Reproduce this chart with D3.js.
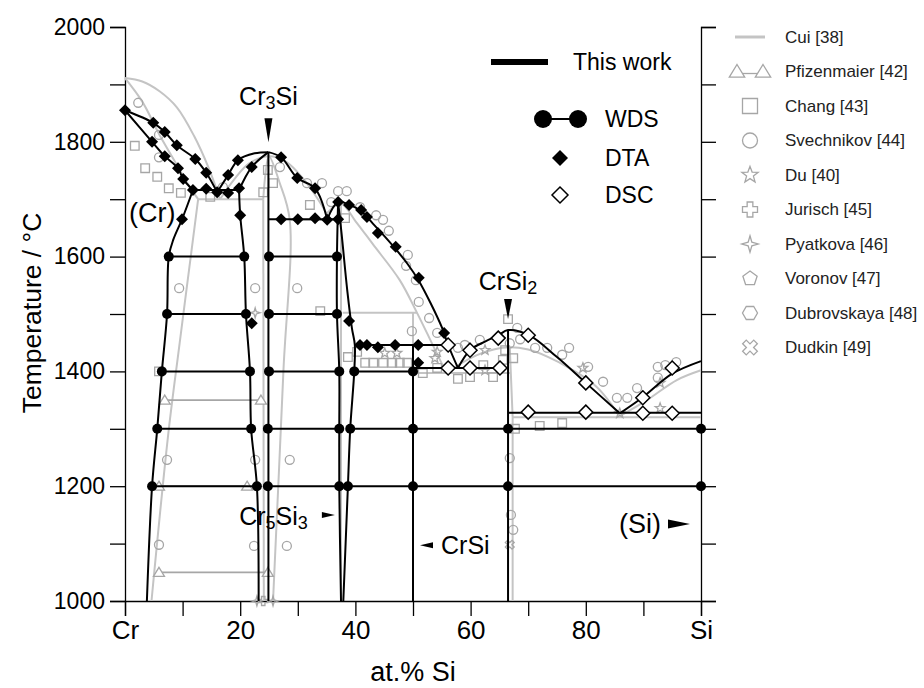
<!DOCTYPE html>
<html lang="en">
<head>
<meta charset="UTF-8" />
<title>Cr–Si phase diagram</title>
<script src="https://d3js.org/d3.v7.min.js"></script>
<style>
  body { margin: 0; background: #fff; }
  svg { display: block; font-family: "Liberation Sans", Arial, sans-serif; }
  .axis path, .axis line { stroke: #000; stroke-width: 1.3; }
  .axis text { font-size: 23px; fill: #000; font-family: "Liberation Sans", Arial, sans-serif; }
  .xaxis text { font-size: 26px; }
  .work { fill: none; stroke: #000; stroke-width: 2; }
  .cui { fill: none; stroke: #c4c4c4; stroke-width: 2; }
  .lit { fill: none; stroke: #a6a6a6; stroke-width: 1.3; }
  .lab { font-size: 23px; fill: #000; }
  .leg { font-size: 17px; fill: #222; }
</style>
</head>
<body>
<svg id="chart" width="924" height="688"></svg>
<script>
// ---- this work: phase boundaries (at.% Si, °C)
const liqCr      = [[0,1855],[4.9,1833],[6.9,1817],[9.0,1794],[12.2,1770],[14.1,1746],[16.0,1712]];
const solCr      = [[0,1855],[4.7,1800],[6.9,1775],[9.2,1754],[10.1,1735],[11.8,1716]];
const solvCr     = [[11.8,1716],[9.9,1665],[8.4,1630],[7.6,1600],[7.3,1500],[6.4,1400],[5.6,1300],[4.7,1200],[3.8,1000]];
const liqCr3SiL  = [[16.0,1712],[17.9,1742],[19.6,1768],[22.5,1780],[24.9,1782]];
const solCr3SiL  = [[19.8,1716],[22.0,1756],[24.9,1782]];
const solvCr3SiL = [[19.8,1716],[20.0,1672],[20.7,1600],[21.0,1500],[21.7,1400],[21.9,1300],[22.9,1200],[23.2,1000]];
const liqCr3SiR  = [[24.9,1782],[27.1,1773],[29.9,1737],[33.0,1719],[35.1,1665]];
const liqCr5Si3  = [[35.1,1665],[37.0,1695],[39,1690],[41,1679],[43,1658],[45,1636],[47,1613],[49,1588],[51,1558],[53,1520],[55,1477],[56.1,1446],[57.8,1406]];
const cr5si3L    = [[37.0,1695],[36.8,1600],[36.8,1500],[37.2,1400],[37.2,1300],[37.2,1200],[37.5,1000]];
const cr5si3R    = [[37.0,1695],[37.6,1640],[38.6,1540],[39.4,1475],[39.9,1446],[39.8,1400],[39.1,1300],[38.7,1200],[37.9,1000]];
const liqCrSi2   = [[57.8,1406],[59.9,1437],[62.5,1452],[64.8,1463],[66.5,1472],[70.0,1464],[75,1425],[80.0,1380],[85.9,1327]];
const liqSi      = [[85.9,1327],[89.9,1355],[95.0,1396],[100,1418]];
const eut1  = [[11.8,1716],[19.8,1716]];
const cr3si = [[24.9,1782],[24.9,1000]];
const eut2  = [[24.9,1665],[37.0,1665]];
const peri  = [[39.9,1446],[56.1,1446]];
const crsi  = [[50,1446],[50,1000]];
const eut3  = [[50,1406],[66.5,1406]];
const crsi2 = [[66.5,1472],[66.5,1000]];
const eut4  = [[66.5,1328],[100,1328]];

// WDS tie lines [T, from, to] and measured compositions
const wdsTies = [[1600,7.6,20.7],[1600,25,36.8],[1500,7.3,21.0],[1500,25,36.8],
  [1400,6.4,21.7],[1400,25,37.2],[1400,39.8,50],
  [1300,5.6,21.9],[1300,24.8,37.2],[1300,39.1,100],
  [1200,4.7,22.9],[1200,24.8,37.2],[1200,38.7,100]];
const wdsPts = [[7.6,1600],[20.7,1600],[25.0,1600],[36.8,1600],
  [7.3,1500],[21.0,1500],[25.0,1500],[36.8,1500],
  [6.4,1400],[21.7,1400],[25.0,1400],[37.2,1400],[39.8,1400],[50,1400],
  [5.6,1300],[21.9,1300],[24.8,1300],[37.2,1300],[39.1,1300],[50,1300],[66.5,1300],[100,1300],
  [4.7,1200],[22.9,1200],[24.8,1200],[37.2,1200],[38.7,1200],[50,1200],[66.5,1200],[100,1200]];

const dtaPts = [[0,1855],[4.9,1833],[6.9,1817],[9.0,1794],[12.2,1770],[14.1,1746],[16.0,1712],
  [4.7,1800],[6.9,1775],[9.2,1754],[10.1,1735],[11.8,1716],[14.1,1718],[17.9,1711],
  [17.9,1742],[19.8,1719],[19.6,1768],[22.0,1756],[27.1,1773],[29.9,1737],[33.0,1719],
  [9.9,1665],[20.0,1672],[27.1,1665],[30.0,1665],[33.0,1667],[35.1,1664],[37.0,1665],
  [37.0,1695],[38.9,1690],[41.0,1681],[42.0,1669],[43.9,1641],[47.0,1617],[51.0,1563],[55.4,1467],
  [38.9,1488],[22.0,1484],[40.8,1446],[42.0,1446],[43.9,1442],[46.9,1446],[50.9,1446],[50.9,1415]];
const dscPts = [[56.1,1446],[59.9,1437],[64.8,1458],[56.1,1406],[59.9,1406],[65.1,1406],
  [70.0,1463],[80.0,1380],[89.9,1354],[95.0,1406],[70.0,1329],[80.0,1329],[89.9,1327],[95.0,1327]];

// ---- Cui [38] calculation
const cuiLiqCr     = [[0,1911],[3,1905],[6,1888],[9,1860],[12,1810],[14.5,1755],[16.5,1700]];
const cuiSolCr     = [[0,1911],[3,1870],[6,1812],[9,1760],[11,1725],[12.7,1700]];
const cuiSolvCr    = [[12.7,1700],[11.8,1630],[9.5,1450],[7.5,1290],[4.6,1000]];
const cuiLiqCr3Si  = [[16.5,1700],[19,1735],[21.5,1762],[25,1775],[28,1765],[31,1735],[33.5,1700],[35,1675]];
const cuiCr3Si     = [[24.0,1700],[24.4,1745],[25,1775],[26.8,1730],[28.6,1664],[27.5,1400],[25.7,1000]];
const cuiLiqCr5Si3 = [[35,1675],[37.5,1692],[40,1662],[43,1622],[47.7,1559],[50.7,1502],[53,1455],[55.8,1397]];
const cuiLiqCrSi2  = [[55.8,1397],[58,1412],[61,1428],[64,1438],[66.8,1442],[70,1438],[73.5,1425],[77.3,1405],[81.9,1373],[85.9,1322]];
const cuiLiqSi     = [[85.9,1322],[90.6,1350],[95.8,1385],[100,1402]];
const cuiStraight  = [
  [[12.7,1700],[24.0,1700]], [[24.0,1700],[24.1,1000]], [[28.6,1664],[37.5,1664]],
  [[37.5,1692],[37.5,1000]], [[37.8,1502],[50.7,1502]], [[50,1502],[50,1000]],
  [[50,1397],[67.0,1397]], [[66.8,1442],[67.3,1320],[67.3,1000]], [[67.3,1320],[100,1320]]];

// ---- literature data
const pfizTies = [[1350,6.9,23.6],[1200,5.9,21.2],[1050,5.9,24.8]];
const changPts = [[1.7,1793],[3.5,1754],[5.6,1739],[7.6,1719],[9.7,1711],[14.8,1704],[24.0,1712],[25.7,1728],
  [24.8,1751],[32.1,1690],[38.2,1667],[33.9,1505],[5.9,1400],[38.7,1425],[40.3,1434],[41.7,1415],[43.1,1415],
  [44.8,1415],[46.4,1415],[47.7,1415],[49.0,1415],[51.7,1397],[54.2,1406],[57.8,1387],[59.9,1390],[62.2,1411],
  [63.9,1390],[66.0,1437],[65.6,1420],[66.5,1491],[67.4,1423],[72.0,1305],[75.9,1310],[67.7,1300]];
const svechPts = [[2.3,1868],[5.9,1812],[5.9,1773],[17.0,1721],[26.9,1756],[31.6,1728],[34.2,1728],[37.0,1714],
  [38.5,1714],[35.8,1695],[40.8,1686],[43.6,1672],[44.8,1664],[45.8,1645],[49.1,1603],[48.8,1584],[50.5,1559],
  [51.0,1521],[52.8,1493],[49.8,1470],[54.2,1467],[29.9,1545],[9.4,1545],[22.6,1545],[7.3,1246],[22.6,1246],
  [28.6,1246],[5.9,1098],[22.4,1096],[28.1,1096],[57.8,1441],[59.0,1446],[61.6,1455],[66.8,1449],[68.1,1476],
  [68.6,1456],[71.2,1441],[73.3,1441],[75.9,1429],[77.1,1441],[80.4,1408],[83.0,1382],[85.4,1354],[87.2,1354],
  [88.9,1371],[92.5,1408],[93.8,1411],[95.7,1416],[92.5,1389],[66.8,1249],[67.0,1150],[67.4,1124]];
const duPts    = [[45.1,1432],[47.2,1432],[54.2,1434],[62.5,1402],[62.5,1437],[79.5,1406],[92.9,1380],[92.9,1336],[85.9,1327],[53.8,1423]];
const jurPts   = [[24.0,1000]];
const pyatPts  = [[22.9,1000],[25.7,1000],[22.6,1502]];
const dudPts   = [[66.8,1098]];

const legendLabels = ["Cui [38]","Pfizenmaier [42]","Chang [43]","Svechnikov [44]","Du [40]",
  "Jurisch [45]","Pyatkova [46]","Voronov [47]","Dubrovskaya [48]","Dudkin [49]"];
const legendShapes = ["line","tri","square","circle","star","cross","star4","pent","hex","x"];

const svg = d3.select("#chart");
const x = d3.scaleLinear().domain([0, 100]).range([125, 701]);
const y = d3.scaleLinear().domain([1000, 2000]).range([601, 27]);
const curved = d3.line().x(d => x(d[0])).y(d => y(d[1])).curve(d3.curveCatmullRom.alpha(0.5));
const straight = d3.line().x(d => x(d[0])).y(d => y(d[1]));

function poly(n, r, rot) {
  const p = d3.range(n).map(i => {
    const a = rot + i * 2 * Math.PI / n;
    return [r * Math.sin(a), -r * Math.cos(a)];
  });
  return "M" + p.join("L") + "Z";
}
function starPath(n, r, ri) {
  const p = d3.range(2 * n).map(i => {
    const a = i * Math.PI / n, rr = i % 2 ? ri : r;
    return [rr * Math.sin(a), -rr * Math.cos(a)];
  });
  return "M" + p.join("L") + "Z";
}
function crossPath(r, w, rot) {
  const pts = [[-w,-r],[w,-r],[w,-w],[r,-w],[r,w],[w,w],[w,r],[-w,r],[-w,w],[-r,w],[-r,-w],[-w,-w]];
  const c = Math.cos(rot), s = Math.sin(rot);
  return "M" + pts.map(([a,b]) => [a*c - b*s, a*s + b*c]).join("L") + "Z";
}
function shape(kind, r) {
  switch (kind) {
    case "square": return `M${-r},${-r}H${r}V${r}H${-r}Z`;
    case "circle": return `M${r},0A${r},${r} 0 1,1 ${-r},0A${r},${r} 0 1,1 ${r},0Z`;
    case "star": return starPath(5, r * 1.15, r * 0.48);
    case "cross": return crossPath(r, r * 0.38, 0);
    case "x": return crossPath(r * 1.05, r * 0.34, Math.PI / 4);
    case "star4": return starPath(4, r * 1.1, r * 0.35);
    case "pent": return poly(5, r, 0);
    case "hex": return poly(6, r, Math.PI / 6);
    case "tri": return `M0,${-r}L${r*1.1},${r*0.8}L${-r*1.1},${r*0.8}Z`;
    case "diamond": return `M0,${-r}L${r},0L0,${r}L${-r},0Z`;
  }
}

// axes
svg.append("g").attr("class", "axis xaxis").attr("transform", "translate(0,601)")
  .call(d3.axisBottom(x).tickValues(d3.range(0, 101, 10)).tickSize(15).tickPadding(5)
    .tickFormat(d => d === 0 ? "Cr" : d === 100 ? "Si" : (d % 20 === 0 ? d : "")));
svg.append("g").attr("class", "axis").attr("transform", "translate(125,0)")
  .call(d3.axisLeft(y).tickValues(d3.range(1000, 2001, 100)).tickSize(15).tickPadding(5)
    .tickFormat(d => d % 200 === 0 ? d : ""));
svg.append("g").attr("class", "axis").attr("transform", "translate(701,0)")
  .call(d3.axisRight(y).tickValues(d3.range(1000, 2001, 100)).tickSize(15).tickFormat(""));
svg.append("text").attr("class", "lab").attr("x", 413).attr("y", 681)
  .attr("text-anchor", "middle").style("font-size", "27px").text("at.% Si");
svg.append("text").attr("class", "lab").attr("transform", "translate(41,313) rotate(-90)")
  .attr("text-anchor", "middle").style("font-size", "26.5px").text("Temperature / °C");

// Cui lines
const gCui = svg.append("g");
[cuiLiqCr, cuiSolCr, cuiSolvCr, cuiLiqCr3Si, cuiCr3Si, cuiLiqCr5Si3, cuiLiqCrSi2, cuiLiqSi]
  .forEach(d => gCui.append("path").attr("class", "cui").attr("d", curved(d)));
cuiStraight.forEach(d => gCui.append("path").attr("class", "cui").attr("d", straight(d)));

// literature markers
const gLit = svg.append("g");
pfizTies.forEach(([t, a, b]) => {
  gLit.append("path").attr("class", "lit").attr("d", straight([[a, t], [b, t]])).style("stroke-width", 1.8);
  [a, b].forEach(v => gLit.append("path").attr("class", "lit").style("fill", "#fff")
    .attr("transform", `translate(${x(v)},${y(t)})`).attr("d", shape("tri", 5)));
});
function litMarks(data, kind, r) {
  gLit.selectAll(null).data(data).join("path").attr("class", "lit")
    .attr("transform", d => `translate(${x(d[0])},${y(d[1])})`).attr("d", shape(kind, r));
}
litMarks(changPts, "square", 4.3);
litMarks(svechPts, "circle", 4.5);
litMarks(duPts, "star", 4.5);
litMarks(jurPts, "cross", 4.5);
litMarks(pyatPts, "star4", 4.5);
litMarks(dudPts, "x", 4.5);

// this work lines
const gWork = svg.append("g");
[liqCr, solCr, solvCr, liqCr3SiL, solCr3SiL, solvCr3SiL, liqCr3SiR, liqCr5Si3, cr5si3L, cr5si3R, liqCrSi2, liqSi]
  .forEach(d => gWork.append("path").attr("class", "work").attr("d", curved(d)));
[eut1, cr3si, eut2, peri, crsi, eut3, crsi2, eut4]
  .forEach(d => gWork.append("path").attr("class", "work").attr("d", straight(d)));
wdsTies.forEach(([t, a, b]) => gWork.append("path").attr("class", "work").attr("d", straight([[a, t], [b, t]])));

gWork.selectAll(".wds").data(wdsPts).join("circle").attr("class", "wds")
  .attr("cx", d => x(d[0])).attr("cy", d => y(d[1])).attr("r", 5).attr("fill", "#000");
gWork.selectAll(".dta").data(dtaPts).join("path").attr("class", "dta")
  .attr("transform", d => `translate(${x(d[0])},${y(d[1])})`).attr("d", shape("diamond", 6)).attr("fill", "#000");
gWork.selectAll(".dsc").data(dscPts).join("path").attr("class", "dsc")
  .attr("transform", d => `translate(${x(d[0])},${y(d[1])})`).attr("d", shape("diamond", 7))
  .attr("fill", "#fff").attr("stroke", "#000").attr("stroke-width", 1.5);

// annotations
function sub(el, parts) {
  parts.forEach(([t, s]) => el.append("tspan").text(t)
    .style("font-size", s === 1 ? "18px" : null).attr("dy", s === 1 ? 4 : s === -1 ? -4 : null));
}
const ann = svg.append("g");
let t = ann.append("text").attr("class", "lab").style("font-size", "25px")
  .attr("x", x(24.9)).attr("y", y(1782) - 47).attr("text-anchor", "middle");
sub(t, [["Cr"], ["3", 1], ["Si", -1]]);
ann.append("path").attr("d", `M${x(24.9) - 4},${y(1782) - 34}L${x(24.9) + 4},${y(1782) - 34}L${x(24.9)},${y(1782) - 10}Z`);

t = ann.append("text").attr("class", "lab").style("font-size", "25px")
  .attr("x", x(66.5)).attr("y", y(1472) - 40).attr("text-anchor", "middle");
sub(t, [["CrSi"], ["2", 1]]);
ann.append("path").attr("d", `M${x(66.5) - 4},${y(1472) - 31}L${x(66.5) + 4},${y(1472) - 31}L${x(66.5)},${y(1472) - 11}Z`);

ann.append("text").attr("class", "lab").attr("x", 129).attr("y", y(1660)).style("font-size", "27px").text("(Cr)");

t = ann.append("text").attr("class", "lab").style("font-size", "25px")
  .attr("x", x(37.3) - 32).attr("y", y(1150) + 10).attr("text-anchor", "end");
sub(t, [["Cr"], ["5", 1], ["Si", -1], ["3", 1]]);
ann.append("path").attr("d", `M${x(37.3) - 18},${y(1150) - 3}L${x(37.3) - 5},${y(1150)}L${x(37.3) - 18},${y(1150) + 3}Z`);

ann.append("path").attr("d", `M${x(50) + 7},${y(1097)}L${x(50) + 20},${y(1097) - 3}L${x(50) + 20},${y(1097) + 3}Z`);
ann.append("text").attr("class", "lab").style("font-size", "25px").attr("x", x(50) + 28).attr("y", y(1097) + 9).text("CrSi");

ann.append("text").attr("class", "lab").style("font-size", "27px")
  .attr("x", x(100) - 40).attr("y", y(1134) + 9).attr("text-anchor", "end").text("(Si)");
ann.append("path").attr("d", `M${x(100) - 33},${y(1134) - 4.5}L${x(100) - 11},${y(1134)}L${x(100) - 33},${y(1134) + 4.5}Z`);

// legend: this work
const lg = svg.append("g");
lg.append("line").attr("x1", 491).attr("x2", 548).attr("y1", 62).attr("y2", 62).attr("stroke", "#000").attr("stroke-width", 6);
lg.append("text").attr("class", "lab").attr("x", 573).attr("y", 70).text("This work");
lg.append("line").attr("x1", 543).attr("x2", 578).attr("y1", 119).attr("y2", 119).attr("stroke", "#000").attr("stroke-width", 2);
[543, 578].forEach(cx => lg.append("circle").attr("cx", cx).attr("cy", 119).attr("r", 9));
lg.append("text").attr("class", "lab").attr("x", 605).attr("y", 127).text("WDS");
lg.append("path").attr("transform", "translate(560,158)").attr("d", shape("diamond", 8));
lg.append("text").attr("class", "lab").attr("x", 605).attr("y", 166).text("DTA");
lg.append("path").attr("transform", "translate(560,195)").attr("d", shape("diamond", 8))
  .attr("fill", "#fff").attr("stroke", "#000").attr("stroke-width", 1.5);
lg.append("text").attr("class", "lab").attr("x", 605).attr("y", 203).text("DSC");

// legend: literature
const lr = svg.append("g");
legendLabels.forEach((lab, i) => {
  const cy = 37 + i * 34.5, k = legendShapes[i];
  if (k === "line") {
    lr.append("line").attr("x1", 735).attr("x2", 765).attr("y1", cy).attr("y2", cy)
      .attr("stroke", "#c4c4c4").attr("stroke-width", 3);
  } else if (k === "tri") {
    lr.append("line").attr("x1", 737).attr("x2", 763).attr("y1", cy + 2).attr("y2", cy + 2).attr("class", "lit");
    [737, 763].forEach(cx => lr.append("path").attr("class", "lit").style("fill", "#fff")
      .attr("transform", `translate(${cx},${cy})`).attr("d", shape("tri", 7)));
  } else {
    lr.append("path").attr("class", "lit").attr("transform", `translate(750,${cy})`).attr("d", shape(k, 7.5));
  }
  lr.append("text").attr("class", "leg").attr("x", 785).attr("y", cy).attr("dy", "0.35em").text(lab);
});
</script>
</body>
</html>
